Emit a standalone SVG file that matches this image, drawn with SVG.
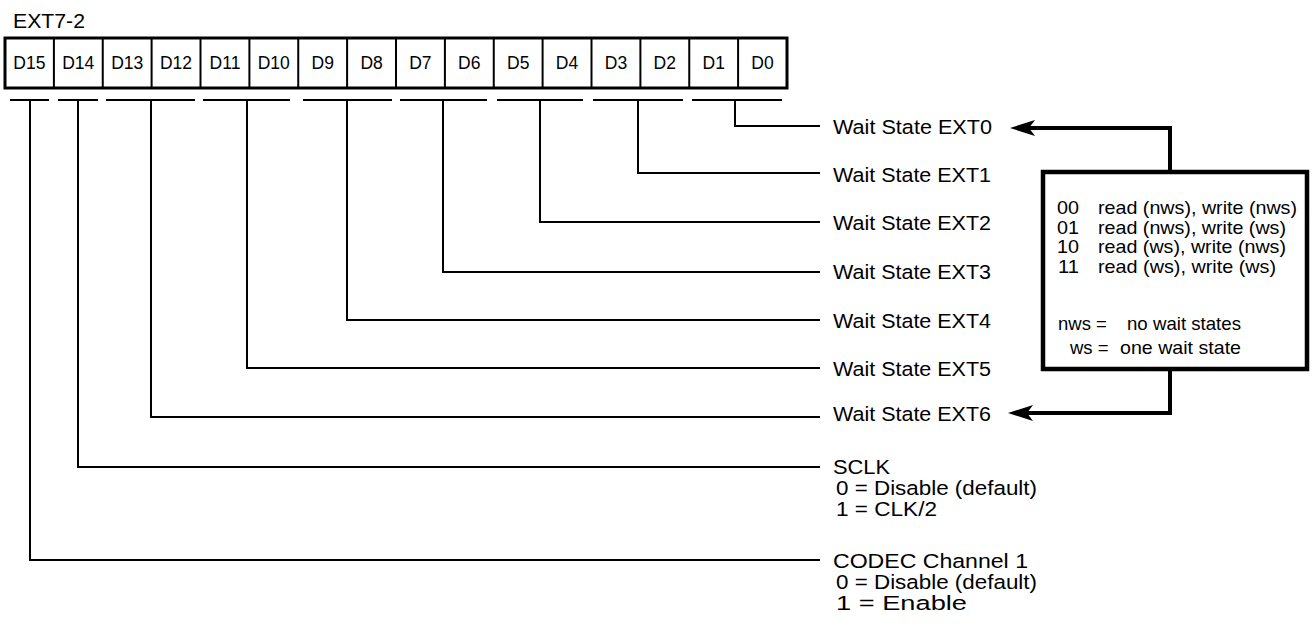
<svg xmlns="http://www.w3.org/2000/svg" width="1312" height="626" viewBox="0 0 1312 626">
<style>
text{font-family:"Liberation Sans",Arial,sans-serif;fill:#000}
.t{font-size:20.5px}
.c{font-size:17.5px;text-anchor:middle}
.l{font-size:18.5px}
.ln{fill:none;stroke:#000;stroke-width:2}
.th{fill:none;stroke:#000;stroke-width:4}
</style>
<defs>
<marker id="ah" viewBox="0 0 26 18" refX="7" refY="9" markerWidth="26" markerHeight="18" markerUnits="userSpaceOnUse" orient="auto">
<path d="M25,9 L0,1 L6,9 L0,17 Z" fill="#000"/>
</marker>
</defs>
<rect width="1312" height="626" fill="#fff"/>
<text class="t" x="13" y="28" font-size="21" textLength="72" lengthAdjust="spacingAndGlyphs">EXT7-2</text>
<g id="register">
<rect x="5" y="38" width="782" height="50" fill="#fff" stroke="#000" stroke-width="3"/>
<g class="ln">
<path d="M53.9,38V88M102.75,38V88M151.6,38V88M200.5,38V88M249.4,38V88M298.25,38V88M347.1,38V88M396,38V88M444.9,38V88M493.75,38V88M542.6,38V88M591.5,38V88M640.4,38V88M689.25,38V88M738.1,38V88"/>
</g>
<text class="c" x="29.4" y="69">D15</text>
<text class="c" x="78.3" y="69">D14</text>
<text class="c" x="127.2" y="69">D13</text>
<text class="c" x="176" y="69">D12</text>
<text class="c" x="225" y="69">D11</text>
<text class="c" x="273.8" y="69">D10</text>
<text class="c" x="322.7" y="69">D9</text>
<text class="c" x="371.6" y="69">D8</text>
<text class="c" x="420.4" y="69">D7</text>
<text class="c" x="469.3" y="69">D6</text>
<text class="c" x="518.2" y="69">D5</text>
<text class="c" x="567" y="69">D4</text>
<text class="c" x="616" y="69">D3</text>
<text class="c" x="664.8" y="69">D2</text>
<text class="c" x="713.7" y="69">D1</text>
<text class="c" x="762.5" y="69">D0</text>
</g>
<g id="connectors">
<path class="ln" d="M10,100H49M58,100H98M106,100H195M203,100H290M303,100H392M400,100H487M497,100H583M593,100H683M692,100H782"/>
<path class="ln" d="M735,100V126H820"/>
<path class="ln" d="M638,100V173H820"/>
<path class="ln" d="M540,100V222H820"/>
<path class="ln" d="M443,100V272H820"/>
<path class="ln" d="M347,100V320H820"/>
<path class="ln" d="M247,100V368H820"/>
<path class="ln" d="M151,100V417H820"/>
<path class="ln" d="M78,100V467H820"/>
<path class="ln" d="M30,100V560H820"/>
<path class="th" d="M1170,172V128H1028" marker-end="url(#ah)"/>
<path class="th" d="M1170,369V413H1026" marker-end="url(#ah)"/>
</g>
<g id="labels">
<text class="t" x="833" y="134" textLength="159" lengthAdjust="spacingAndGlyphs">Wait State EXT0</text>
<text class="t" x="833" y="182" textLength="158" lengthAdjust="spacingAndGlyphs">Wait State EXT1</text>
<text class="t" x="833" y="230" textLength="158" lengthAdjust="spacingAndGlyphs">Wait State EXT2</text>
<text class="t" x="833" y="279" textLength="158" lengthAdjust="spacingAndGlyphs">Wait State EXT3</text>
<text class="t" x="833" y="328" textLength="158" lengthAdjust="spacingAndGlyphs">Wait State EXT4</text>
<text class="t" x="833" y="376" textLength="158" lengthAdjust="spacingAndGlyphs">Wait State EXT5</text>
<text class="t" x="833" y="421" textLength="158" lengthAdjust="spacingAndGlyphs">Wait State EXT6</text>
<text class="t" x="833" y="474" textLength="57" lengthAdjust="spacingAndGlyphs">SCLK</text>
<text class="t" x="836" y="495" textLength="201" lengthAdjust="spacingAndGlyphs">0 = Disable (default)</text>
<text class="t" x="836" y="516" textLength="101" lengthAdjust="spacingAndGlyphs">1 = CLK/2</text>
<text class="t" x="833" y="568" textLength="195" lengthAdjust="spacingAndGlyphs">CODEC Channel 1</text>
<text class="t" x="836" y="589" textLength="201" lengthAdjust="spacingAndGlyphs">0 = Disable (default)</text>
<text class="t" x="836" y="610" textLength="131" lengthAdjust="spacingAndGlyphs">1 = Enable</text>
</g>
<g id="legend">
<rect x="1043" y="172" width="264" height="197" fill="#fff" stroke="#000" stroke-width="4.5"/>
<text class="l" x="1057" y="214" textLength="22" lengthAdjust="spacingAndGlyphs">00</text><text class="l" x="1098" y="214" textLength="199" lengthAdjust="spacingAndGlyphs">read (nws), write (nws)</text>
<text class="l" x="1057" y="233.5" textLength="22" lengthAdjust="spacingAndGlyphs">01</text><text class="l" x="1098" y="233.5" textLength="188" lengthAdjust="spacingAndGlyphs">read (nws), write (ws)</text>
<text class="l" x="1057" y="253" textLength="22" lengthAdjust="spacingAndGlyphs">10</text><text class="l" x="1098" y="253" textLength="188" lengthAdjust="spacingAndGlyphs">read (ws), write (nws)</text>
<text class="l" x="1058" y="272.5" textLength="21" lengthAdjust="spacingAndGlyphs">11</text><text class="l" x="1098" y="272.5" textLength="178" lengthAdjust="spacingAndGlyphs">read (ws), write (ws)</text>
<text class="l" x="1058" y="330" font-size="19.5px">nws =</text><text class="l" x="1127" y="330" font-size="19.5px" textLength="114" lengthAdjust="spacingAndGlyphs">no wait states</text>
<text class="l" x="1070" y="354" font-size="19.5px">ws =</text><text class="l" x="1120" y="354" font-size="19.5px" textLength="121" lengthAdjust="spacingAndGlyphs">one wait state</text>
</g>
</svg>
